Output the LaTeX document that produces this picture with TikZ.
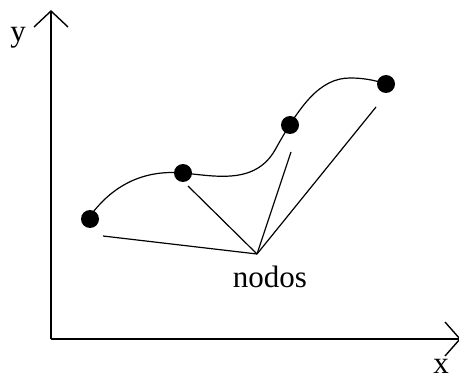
\documentclass[tikz,border=0pt]{standalone}
\usepackage{fontspec}
\setmainfont{Liberation Serif}
\usetikzlibrary{positioning}

\begin{document}
\begin{tikzpicture}[
  x=0.5pt,
  y=-0.5pt,
  every node/.style={font=\fontsize{15.5}{18}\selectfont},
  axisline/.style={line width=0.7pt},
  nododot/.style={circle, fill=black, inner sep=0pt, minimum size=9pt},
  guide/.style={line width=0.6pt}
]
  \useasboundingbox (0,0) rectangle (459,379);

  % Axes
  \coordinate (origin) at (51,339);
  \coordinate (ytip) at (51,11);
  \coordinate (xtip) at (460,339);
  \draw[axisline] (origin) -- (ytip);
  \draw[axisline] (origin) -- (xtip);
  \draw[axisline] (34,27) -- (ytip) -- (68,27);
  \draw[axisline] (445,322) -- (xtip) -- (445,356);
  \node (ylabel) at (18,38) {y};
  \node (xlabel) at (441,366) {x};

  % Curve through the nodes
  \draw[line width=0.6pt] (88,219)
    .. controls (115,180) and (150,170) .. (183,173)
    .. controls (215,176) and (255,185) .. (275,150)
    .. controls (300,105) and (320,78) .. (350,78)
    .. controls (368,78) and (380,82) .. (386,84);

  \node[nododot] (n1) at (90,219) {};
  \node[nododot] (n2) at (183,173) {};
  \node[nododot] (n3) at (290,125) {};
  \node[nododot] (n4) at (386,84) {};

  % Label and guide lines
  \coordinate (hub) at (257,254);
  \node (nodos) at (270,277) {nodos};
  \coordinate (g1) at (103,236);
  \coordinate (g2) at (188,186);
  \coordinate (g3) at (291,152);
  \coordinate (g4) at (376,107);
  \draw[guide] (g1) -- (hub);
  \draw[guide] (g2) -- (hub);
  \draw[guide] (g3) -- (hub);
  \draw[guide] (g4) -- (hub);
\end{tikzpicture}
\end{document}
